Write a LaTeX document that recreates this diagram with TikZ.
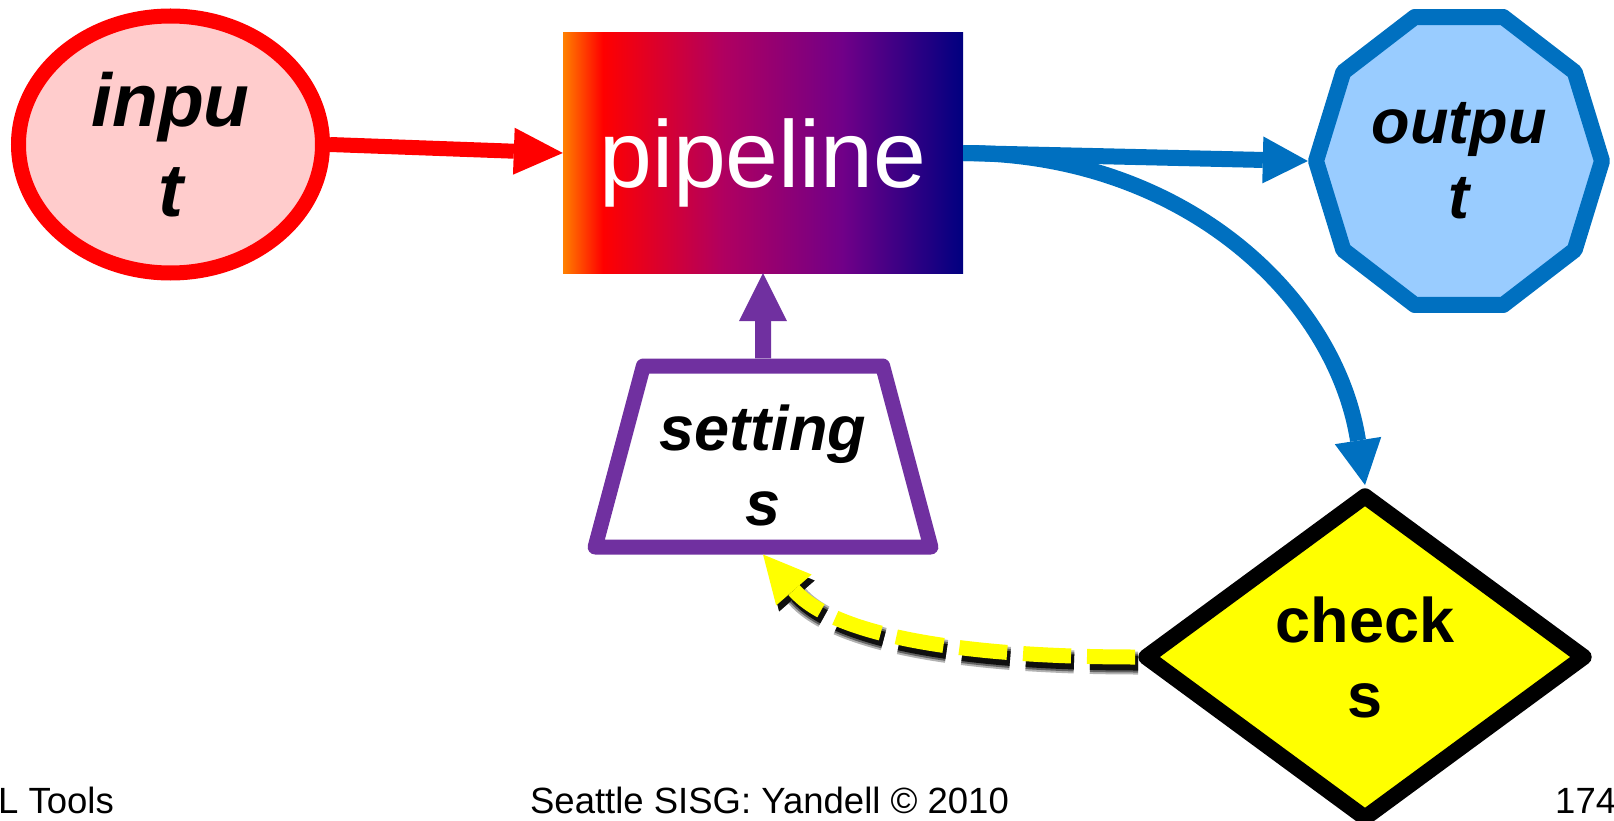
\documentclass[tikz,border=0pt]{standalone}
\usepackage{fontspec}
\setmainfont{Liberation Sans}
\usetikzlibrary{shapes.geometric,arrows.meta}
\definecolor{myred}{RGB}{255,0,0}
\definecolor{pinkfill}{RGB}{255,204,204}
\definecolor{myblue}{RGB}{0,112,192}
\definecolor{lightblue}{RGB}{153,204,255}
\definecolor{mypurple}{RGB}{112,48,160}
\definecolor{myyellow}{RGB}{255,255,0}
\definecolor{gradorange}{RGB}{255,128,0}
\definecolor{gradred}{RGB}{255,0,0}
\definecolor{gradmidA}{RGB}{176,0,96}
\definecolor{gradmidB}{RGB}{112,0,136}
\definecolor{gradnavy}{RGB}{0,0,128}
\pgfdeclarehorizontalshading{pipeshade}{100bp}{color(0bp)=(gradorange); color(25bp)=(gradorange); color(30bp)=(gradred); color(45bp)=(gradmidA); color(60bp)=(gradmidB); color(75bp)=(gradnavy); color(100bp)=(gradnavy)}
\pgfdeclarelayer{bg}
\pgfsetlayers{bg,main}
\tikzset{
  bigital/.style={font=\fontsize{75}{90}\selectfont\bfseries\itshape, align=center, inner sep=0pt},
  midital/.style={font=\fontsize{63}{75}\selectfont\bfseries\itshape, align=center, inner sep=0pt},
  midbold/.style={font=\fontsize{63}{75}\selectfont\bfseries, align=center, inner sep=0pt},
  footer/.style={font=\fontsize{36.5}{44}\selectfont, inner sep=0pt},
  decagon/.style={draw=myblue, fill=lightblue, line width=16pt, line join=round},
  tipA/.style={-{Triangle[length=49pt,width=47pt,line width=0pt]}},
  tipB/.style={-{Triangle[length=45pt,width=47pt,line width=0pt]}},
  yellowpath/.style={line width=15pt, dash pattern=on 48pt off 16pt, -{Triangle[length=47pt,width=47pt,line width=0pt]}},
}
\begin{document}
\begin{tikzpicture}[x=1pt,y=-1pt]
\useasboundingbox (0,0) rectangle (1614,821);

% nodes
\node[ellipse, draw=myred, fill=pinkfill, line width=15pt, minimum width=304pt, minimum height=257pt, bigital] (in) at (170.5,144.5) {inpu\\t};

\node[rectangle, minimum width=400pt, minimum height=240pt, inner sep=0pt, shading=pipeshade, text=white, font=\fontsize{95}{114}\selectfont, text height=90pt, text depth=20pt] (pipe) at (763,153) {pipeline};

\node[circle, minimum size=302pt, midital] (out) at (1459,161) {outpu\\t};

\node[trapezium, trapezium left angle=76, trapezium right angle=76, trapezium stretches=true, draw=mypurple, fill=white, line width=15pt, line join=round, minimum width=336pt, minimum height=181pt, midital, text height=152pt, text depth=15pt] (set) at (763,456.5) {setting\\s};

\node[diamond, aspect=1.39, draw=black, fill=myyellow, line width=16pt, line join=round, minimum width=444pt, minimum height=328pt, midbold] (chk) at (1365,657) {check\\s};

% connectors
\draw[line width=15pt, myred, tipA] (in.east) -- (pipe.west);
\draw[line width=16pt, myblue, tipB] (pipe.east) -- (out.west);
\draw[line width=16pt, myblue, tipB] (pipe.east) .. controls +(217,0) and +(-30,-191) .. (chk.north);
\draw[line width=16pt, mypurple, -{Triangle[length=48pt,width=48pt,line width=0pt]}] (set.north) -- (pipe.south);

\begin{pgfonlayer}{bg}
\draw[decagon] (out.center) +(0:143pt and 151.4pt) -- +(36:143pt and 151.4pt) -- +(72:143pt and 151.4pt) -- +(108:143pt and 151.4pt) -- +(144:143pt and 151.4pt) -- +(180:143pt and 151.4pt) -- +(216:143pt and 151.4pt) -- +(252:143pt and 151.4pt) -- +(288:143pt and 151.4pt) -- +(324:143pt and 151.4pt) -- cycle;
\begin{scope}[transform canvas={xshift=3pt,yshift=-6pt}]
\draw[yellowpath, black, line width=23pt, opacity=.3] (chk.west) .. controls +(-190,0) and +(67,77) .. (set.south);
\draw[yellowpath, black, line width=19pt, opacity=.45] (chk.west) .. controls +(-190,0) and +(67,77) .. (set.south);
\draw[yellowpath, black, line width=15pt, opacity=.85] (chk.west) .. controls +(-190,0) and +(67,77) .. (set.south);
\end{scope}
\end{pgfonlayer}
\draw[yellowpath, myyellow] (chk.west) .. controls +(-190,0) and +(67,77) .. (set.south);

% footer
\node[footer, anchor=base west] (ft1) at (-2,813) {L Tools};
\node[footer, anchor=base] (ft2) at (769.5,813) {Seattle SISG: Yandell © 2010};
\node[footer, anchor=base west] (ft3) at (1555,813) {174};
\end{tikzpicture}
\end{document}
